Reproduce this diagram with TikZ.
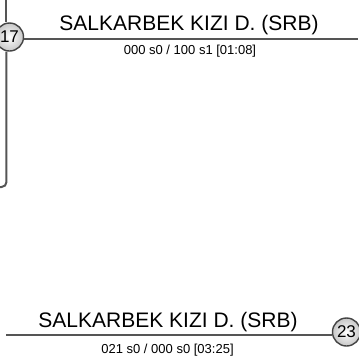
\documentclass[tikz,border=0pt]{standalone}
\usepackage{fontspec}
\setmainfont{Liberation Sans}
\usepackage{xcolor}
\usepackage{tikz}
\usetikzlibrary{positioning,calc}
\definecolor{wireC}{HTML}{555555}
\definecolor{ringD}{HTML}{444444}

\tikzset{
  wire/.style={draw=wireC, line width=2pt},
  matchno/.style={circle, draw=ringD, line width=1.4pt, minimum size=28pt, inner sep=0pt,
    inner color=white, outer color=black!22, font=\fontsize{17}{17}\selectfont},
  player/.style={anchor=base, inner sep=0pt, font=\fontsize{21}{21}\selectfont},
  score/.style={anchor=base, inner sep=0pt, font=\fontsize{13}{13}\selectfont}
}

\begin{document}
\begin{tikzpicture}[yscale=-1, x=1pt, y=1pt]
\useasboundingbox (0,0) rectangle (359,360);
% upper match
\node[matchno] (m17) at (9.5,37) {17};
\coordinate (upTop) at (6.5,0);
\coordinate (upEnd) at (358,38.5);
\draw[wire] (upTop) -- (upTop |- m17.north);
\draw[wire, rounded corners=5pt] (upTop |- m17.south) -- (6.5,187) -- (-3,187);
\draw[wire] (m17.east |- upEnd) -- (upEnd);
\node[player] (p1) at (189,30.5) {SALKARBEK KIZI D. (SRB)};
\node[score] (s1) at (190,54) {000 s0 / 100 s1 [01:08]};
% lower match
\node[matchno] (m23) at (346.5,332) {23};
\coordinate (lowStart) at (6.5,334.5);
\draw[wire] (lowStart) -- (lowStart -| m23.west);
\node[player] (p2) at (168,327.5) {SALKARBEK KIZI D. (SRB)};
\node[score] (s2) at (167.5,353) {021 s0 / 000 s0 [03:25]};
\end{tikzpicture}
\end{document}
